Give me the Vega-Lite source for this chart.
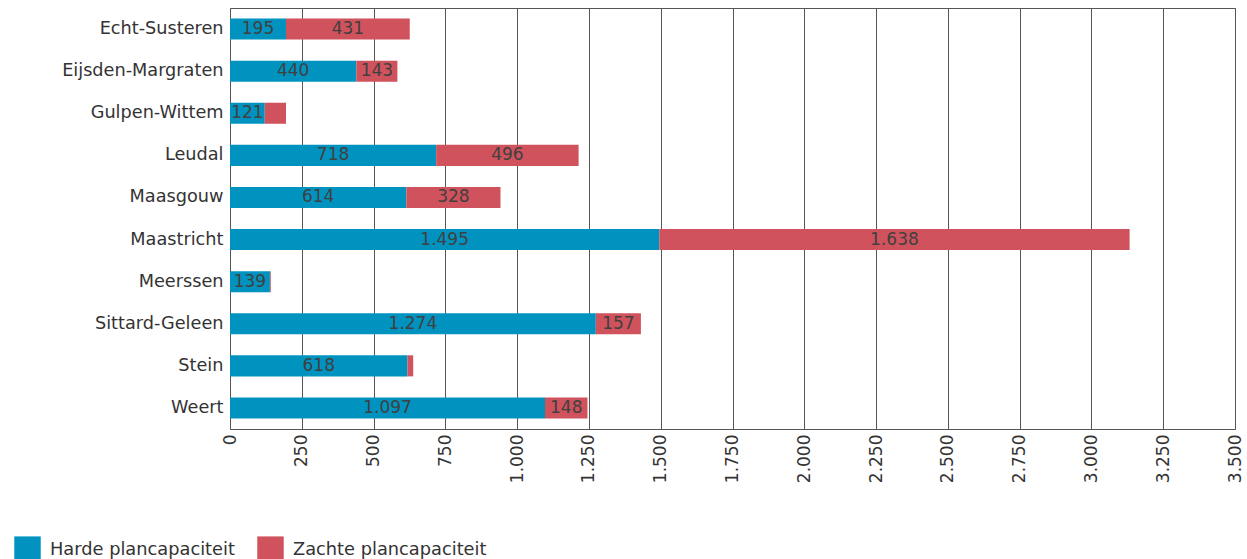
{
  "$schema": "https://vega.github.io/schema/vega-lite/v6.json",
  "width": 1005,
  "height": 421,
  "padding": {"left": 0, "top": 8, "right": 7, "bottom": 0},
  "config": {
    "font": "DejaVu Sans",
    "locale": {"number": {"decimal": ",", "thousands": ".", "grouping": [3], "currency": ["€", ""]}},
    "view": {"stroke": "#555555", "strokeWidth": 1}
  },
  "data": {
    "values": [
      {"gemeente": "Echt-Susteren", "type": "Harde plancapaciteit", "value": 195},
      {"gemeente": "Echt-Susteren", "type": "Zachte plancapaciteit", "value": 431},
      {"gemeente": "Eijsden-Margraten", "type": "Harde plancapaciteit", "value": 440},
      {"gemeente": "Eijsden-Margraten", "type": "Zachte plancapaciteit", "value": 143},
      {"gemeente": "Gulpen-Wittem", "type": "Harde plancapaciteit", "value": 121},
      {"gemeente": "Gulpen-Wittem", "type": "Zachte plancapaciteit", "value": 74},
      {"gemeente": "Leudal", "type": "Harde plancapaciteit", "value": 718},
      {"gemeente": "Leudal", "type": "Zachte plancapaciteit", "value": 496},
      {"gemeente": "Maasgouw", "type": "Harde plancapaciteit", "value": 614},
      {"gemeente": "Maasgouw", "type": "Zachte plancapaciteit", "value": 328},
      {"gemeente": "Maastricht", "type": "Harde plancapaciteit", "value": 1495},
      {"gemeente": "Maastricht", "type": "Zachte plancapaciteit", "value": 1638},
      {"gemeente": "Meerssen", "type": "Harde plancapaciteit", "value": 139},
      {"gemeente": "Meerssen", "type": "Zachte plancapaciteit", "value": 3},
      {"gemeente": "Sittard-Geleen", "type": "Harde plancapaciteit", "value": 1274},
      {"gemeente": "Sittard-Geleen", "type": "Zachte plancapaciteit", "value": 157},
      {"gemeente": "Stein", "type": "Harde plancapaciteit", "value": 618},
      {"gemeente": "Stein", "type": "Zachte plancapaciteit", "value": 20},
      {"gemeente": "Weert", "type": "Harde plancapaciteit", "value": 1097},
      {"gemeente": "Weert", "type": "Zachte plancapaciteit", "value": 148}
    ]
  },
  "transform": [
    {"stack": "value", "groupby": ["gemeente"], "sort": [{"field": "type", "order": "ascending"}], "as": ["v0", "v1"]}
  ],
  "encoding": {
    "y": {
      "field": "gemeente",
      "type": "nominal",
      "sort": "ascending",
      "scale": {"paddingInner": 0.5, "paddingOuter": 0.25},
      "axis": {
        "title": null,
        "ticks": false,
        "domain": false,
        "labelFontSize": 17.7,
        "labelColor": "#333333",
        "labelPadding": 7,
        "minExtent": 230,
        "maxExtent": 230
      }
    }
  },
  "layer": [
    {
      "mark": {"type": "bar"},
      "encoding": {
        "x": {
          "field": "v0",
          "type": "quantitative",
          "scale": {"domain": [0, 3500], "nice": false},
          "axis": {
            "title": null,
            "values": [0, 250, 500, 750, 1000, 1250, 1500, 1750, 2000, 2250, 2500, 2750, 3000, 3250, 3500],
            "format": ",d",
            "grid": true,
            "gridColor": "#555555",
            "gridOpacity": 1,
            "ticks": false,
            "domain": false,
            "labelAngle": 270,
            "labelFontSize": 17,
            "labelColor": "#333333",
            "labelPadding": 5,
            "labelOverlap": false
          }
        },
        "x2": {"field": "v1"},
        "color": {
          "field": "type",
          "type": "nominal",
          "scale": {"domain": ["Harde plancapaciteit", "Zachte plancapaciteit"], "range": ["#0093c0", "#d0525c"]},
          "legend": {
            "title": null,
            "orient": "none",
            "direction": "horizontal",
            "legendX": -216,
            "legendY": 528,
            "symbolType": "square",
            "symbolSize": 700,
            "symbolStrokeWidth": 0,
            "symbolOpacity": 1,
            "labelFontSize": 17.8,
            "labelColor": "#333333",
            "labelLimit": 0,
            "labelOffset": 9,
            "columnPadding": 22
          }
        }
      }
    },
    {
      "transform": [
        {"filter": "datum.value >= 100"},
        {"calculate": "(datum.v0 + datum.v1) / 2", "as": "mid"}
      ],
      "mark": {"type": "text", "fontSize": 17, "fill": "#404040", "baseline": "middle", "align": "center"},
      "encoding": {
        "x": {"field": "mid", "type": "quantitative"},
        "text": {"field": "value", "type": "quantitative", "format": ",d"}
      }
    }
  ]
}
